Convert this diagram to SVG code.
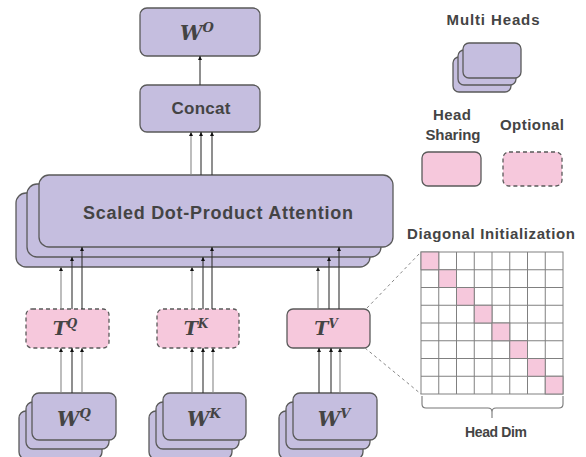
<svg xmlns="http://www.w3.org/2000/svg" width="586" height="457" viewBox="0 0 586 457">
<style>
.p{fill:#c5bedf;stroke:#5a5a5a;stroke-width:1.3}
.k{fill:#f6c8dc;stroke:#5a5a5a;stroke-width:1.3}
.d{stroke-dasharray:4 3}
.t{font-family:"Liberation Sans","DejaVu Sans",sans-serif;font-weight:bold;fill:#444;text-anchor:middle}
.m{font-family:"DejaVu Serif","Liberation Serif",serif;font-weight:bold;font-style:italic;fill:#444;text-anchor:middle}
.l{stroke:#333;stroke-width:1.1;fill:none;marker-end:url(#a)}
.g{stroke:#888;stroke-width:1.1;fill:none;marker-end:url(#a)}
.cell{fill:#fff;stroke:#808080;stroke-width:1}
.dg{fill:#f6c8dc;stroke:#808080;stroke-width:1}
</style>
<defs>
<marker id="a" viewBox="0 0 6 6" refX="6" refY="3" markerWidth="4" markerHeight="4" orient="auto" markerUnits="userSpaceOnUse"><path d="M0,0L6,3L0,6z" fill="#111"/></marker>
</defs>
<rect width="586" height="457" fill="#fff"/>

<g id="wo"><rect class="p" x="140" y="8" width="120" height="48" rx="7"/><text class="m" x="197" y="40" font-size="20">W<tspan dy="-8" font-size="13">O</tspan></text></g>
<g id="concat"><rect class="p" x="140" y="85" width="120" height="47" rx="7"/><text class="t" x="201" y="114" font-size="17" textLength="59" lengthAdjust="spacing">Concat</text></g>
<g id="attention">
<rect class="p" x="16" y="193" width="354" height="74" rx="10"/>
<rect class="p" x="27" y="184" width="354" height="73" rx="10"/>
<rect class="p" x="39" y="175" width="354" height="72" rx="10"/>
<text class="t" x="218" y="219" font-size="18" textLength="270" lengthAdjust="spacing">Scaled Dot-Product Attention</text>
</g>
<g id="tq"><rect class="k d" x="26" y="309" width="83" height="39" rx="6"/><text class="m" x="65" y="335" font-size="19">T<tspan dy="-7" font-size="12">Q</tspan></text></g>
<g id="tk"><rect class="k d" x="157" y="309" width="82" height="39" rx="6"/><text class="m" x="196" y="335" font-size="19">T<tspan dy="-7" font-size="12">K</tspan></text></g>
<g id="tv"><rect class="k" x="287" y="309" width="83" height="39" rx="6"/><text class="m" x="326" y="335" font-size="19">T<tspan dy="-7" font-size="12">V</tspan></text></g>
<g id="wq">
<rect class="p" x="19" y="411" width="83" height="48" rx="7"/>
<rect class="p" x="26" y="402" width="83" height="47" rx="7"/>
<rect class="p" x="32" y="393" width="84" height="47" rx="7"/>
<text class="m" x="74" y="426" font-size="20">W<tspan dy="-8" font-size="13">Q</tspan></text>
</g>
<g id="wk">
<rect class="p" x="149" y="411" width="83" height="48" rx="7"/>
<rect class="p" x="156" y="402" width="83" height="47" rx="7"/>
<rect class="p" x="163" y="393" width="83" height="47" rx="7"/>
<text class="m" x="204" y="426" font-size="20">W<tspan dy="-8" font-size="13">K</tspan></text>
</g>
<g id="wv">
<rect class="p" x="279" y="411" width="84" height="48" rx="7"/>
<rect class="p" x="286" y="402" width="84" height="47" rx="7"/>
<rect class="p" x="293" y="393" width="84" height="47" rx="7"/>
<text class="m" x="334" y="426" font-size="20">W<tspan dy="-8" font-size="13">V</tspan></text>
</g>

<g id="connectors">
<line class="l" x1="200" y1="85" x2="200" y2="56"/>
<line class="g" x1="191" y1="175" x2="191" y2="132"/>
<line class="l" x1="201" y1="175" x2="201" y2="132"/>
<line class="l" x1="212" y1="175" x2="212" y2="132"/>
<line class="g" x1="61" y1="309" x2="61" y2="267"/>
<line class="l" x1="72" y1="309" x2="72" y2="257"/>
<line class="l" x1="82" y1="309" x2="82" y2="247"/>
<line class="g" x1="192" y1="309" x2="192" y2="267"/>
<line class="l" x1="203" y1="309" x2="203" y2="257"/>
<line class="l" x1="212" y1="309" x2="212" y2="247"/>
<line class="g" x1="318" y1="309" x2="318" y2="267"/>
<line class="l" x1="329" y1="309" x2="329" y2="257"/>
<line class="l" x1="339" y1="309" x2="339" y2="247"/>
<line class="g" x1="61" y1="393" x2="61" y2="348"/>
<line class="l" x1="72" y1="393" x2="72" y2="348"/>
<line class="g" x1="82" y1="393" x2="82" y2="348"/>
<line class="g" x1="192" y1="393" x2="192" y2="348"/>
<line class="l" x1="203" y1="393" x2="203" y2="348"/>
<line class="g" x1="213" y1="393" x2="213" y2="348"/>
<line class="l" x1="319" y1="393" x2="319" y2="348"/>
<line class="l" x1="331" y1="393" x2="331" y2="348"/>
<line class="g" x1="340" y1="393" x2="340" y2="348"/>
<line x1="367" y1="308" x2="421" y2="252" stroke="#888" stroke-width="1" stroke-dasharray="3 3"/>
<line x1="365" y1="348" x2="421" y2="394" stroke="#888" stroke-width="1" stroke-dasharray="3 3"/>
</g>

<g id="legend-multi">
<text class="t" x="493" y="25" font-size="15" textLength="93" lengthAdjust="spacing">Multi Heads</text>
<rect class="p" x="453" y="57" width="58" height="35" rx="6"/>
<rect class="p" x="458" y="50" width="58" height="35" rx="6"/>
<rect class="p" x="463" y="43" width="58" height="35" rx="6"/>
</g>
<g id="legend-sharing">
<text class="t" x="452" y="120" font-size="15" textLength="38" lengthAdjust="spacing">Head</text>
<text class="t" x="453" y="140" font-size="15" textLength="55" lengthAdjust="spacing">Sharing</text>
<rect class="k" x="422" y="152" width="59" height="34" rx="6"/>
</g>
<g id="legend-optional">
<text class="t" x="532" y="130" font-size="15" textLength="64" lengthAdjust="spacing">Optional</text>
<rect class="k d" x="503" y="152" width="59" height="34" rx="6"/>
</g>

<g id="grid">
<text class="t" x="491" y="239" font-size="15" textLength="168" lengthAdjust="spacing">Diagonal Initialization</text>
<g>
<rect class="cell" x="421" y="252" width="142" height="142"/>
<path d="M438.75 252V394M456.5 252V394M474.25 252V394M492 252V394M509.75 252V394M527.5 252V394M545.25 252V394M421 269.75H563M421 287.5H563M421 305.25H563M421 323H563M421 340.75H563M421 358.5H563M421 376.25H563" stroke="#808080" stroke-width="1" fill="none"/>
<rect class="dg" x="421" y="252" width="17.75" height="17.75"/>
<rect class="dg" x="438.75" y="269.75" width="17.75" height="17.75"/>
<rect class="dg" x="456.5" y="287.5" width="17.75" height="17.75"/>
<rect class="dg" x="474.25" y="305.25" width="17.75" height="17.75"/>
<rect class="dg" x="492" y="323" width="17.75" height="17.75"/>
<rect class="dg" x="509.75" y="340.75" width="17.75" height="17.75"/>
<rect class="dg" x="527.5" y="358.5" width="17.75" height="17.75"/>
<rect class="dg" x="545.25" y="376.25" width="17.75" height="17.75"/>
</g>
<path d="M422 396V404Q422 408 426 408H488Q492 408 492 412V418M492 412Q492 408 496 408H559Q563 408 563 404V396" stroke="#777" stroke-width="1.1" fill="none"/>
<text class="t" x="496" y="437" font-size="14" textLength="62" lengthAdjust="spacing">Head Dim</text>
</g>
</svg>
